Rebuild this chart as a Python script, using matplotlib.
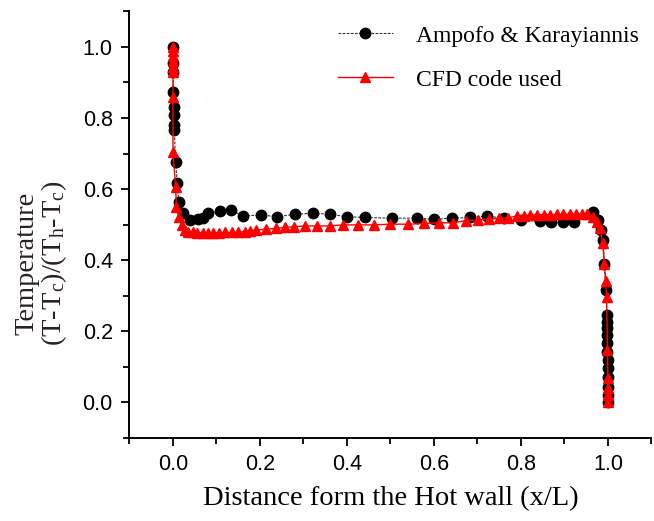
import matplotlib
matplotlib.use("Agg")
import matplotlib.pyplot as plt
from matplotlib.ticker import MultipleLocator

plt.rcParams['mathtext.fontset'] = 'custom'
plt.rcParams['mathtext.rm'] = 'Liberation Serif'
plt.rcParams['mathtext.it'] = 'Liberation Serif'

# Ampofo & Karayiannis (experiment)
exp_x = [0.0, 0.0, 0.0, 0.001, 0.002, 0.002, 0.003, 0.003, 0.006, 0.010, 0.013,
         0.022, 0.038, 0.058, 0.070, 0.081, 0.108, 0.133, 0.161, 0.202, 0.240,
         0.280, 0.321, 0.361, 0.400, 0.441, 0.503, 0.560, 0.600, 0.642, 0.683,
         0.721, 0.760, 0.800, 0.844, 0.870, 0.896, 0.923, 0.966, 0.978, 0.985,
         0.989, 0.992, 0.995, 0.998, 0.998, 0.999, 0.999, 0.999, 0.999, 1.0,
         1.0, 1.0, 1.0, 1.0, 1.0]
exp_y = [1.0, 0.955, 0.93, 0.873, 0.831, 0.808, 0.78, 0.766, 0.676, 0.617, 0.563,
         0.532, 0.513, 0.515, 0.518, 0.532, 0.538, 0.541, 0.524, 0.527, 0.522,
         0.529, 0.532, 0.529, 0.522, 0.520, 0.518, 0.518, 0.515, 0.518, 0.520,
         0.524, 0.518, 0.513, 0.509, 0.506, 0.506, 0.508, 0.535, 0.513, 0.485,
         0.456, 0.390, 0.315, 0.245, 0.225, 0.208, 0.189, 0.166, 0.141, 0.118,
         0.096, 0.070, 0.042, 0.020, 0.0]

# CFD code used
cfd_x = [0.0, 0.0, 0.0, 0.0, 0.0, 0.0, 0.0, 0.0, 0.006, 0.008, 0.014, 0.020,
         0.028, 0.035, 0.045, 0.056, 0.068, 0.080, 0.093, 0.106, 0.120, 0.135,
         0.150, 0.165, 0.178, 0.192, 0.215, 0.237, 0.257, 0.279, 0.303, 0.330,
         0.361, 0.390, 0.426, 0.462, 0.499, 0.540, 0.578, 0.612, 0.644, 0.674,
         0.702, 0.727, 0.750, 0.771, 0.790, 0.806, 0.821, 0.836, 0.852, 0.867,
         0.882, 0.897, 0.912, 0.927, 0.940, 0.953, 0.966, 0.974, 0.982, 0.988,
         0.992, 0.995, 0.997, 0.999, 1.0, 1.0, 1.0, 1.0]
cfd_y = [1.0, 0.99, 0.975, 0.96, 0.945, 0.93, 0.86, 0.704, 0.606, 0.55, 0.52, 0.50,
         0.485, 0.480, 0.478, 0.477, 0.477, 0.477, 0.477, 0.477, 0.478, 0.478,
         0.479, 0.480, 0.482, 0.485, 0.487, 0.489, 0.492, 0.494, 0.496, 0.496,
         0.496, 0.499, 0.499, 0.499, 0.501, 0.501, 0.503, 0.505, 0.505, 0.511,
         0.513, 0.515, 0.518, 0.519, 0.524, 0.525, 0.526, 0.527, 0.528, 0.528,
         0.529, 0.529, 0.530, 0.530, 0.530, 0.529, 0.522, 0.508, 0.489, 0.447,
         0.390, 0.340, 0.297, 0.146, 0.067, 0.040, 0.020, 0.0]

fig = plt.figure(figsize=(6.54, 5.21), dpi=100)
ax = fig.add_axes([0.198, 0.160, 0.798, 0.818])

ax.plot(exp_x, exp_y, color='#333333', lw=0.8, linestyle=(0, (2.5, 1.2)),
        marker='o', markersize=7.5, markerfacecolor='black',
        markeredgecolor='black', label='Ampofo & Karayiannis', zorder=2)
ax.plot(cfd_x, cfd_y, color='red', lw=1.0, marker='^', markersize=7.5,
        markerfacecolor='red', markeredgecolor='red',
        label='CFD code used', zorder=3)

ax.set_xlim(-0.1, 1.1)
ax.set_ylim(-0.1, 1.1)
ax.xaxis.set_minor_locator(MultipleLocator(0.1))
ax.yaxis.set_minor_locator(MultipleLocator(0.1))
ax.set_xticks([0.0, 0.2, 0.4, 0.6, 0.8, 1.0])
ax.set_yticks([0.0, 0.2, 0.4, 0.6, 0.8, 1.0])

for s in ['top', 'right']:
    ax.spines[s].set_visible(False)
for s in ['left', 'bottom']:
    ax.spines[s].set_linewidth(1.4)

ax.tick_params(which='major', direction='out', length=6, width=1.3,
               labelsize=15.5, pad=6)
ax.tick_params(which='minor', direction='out', length=4, width=1.3)
for lab in ax.get_xticklabels() + ax.get_yticklabels():
    lab.set_fontfamily('Liberation Sans')

ax.set_xlabel('Distance form the Hot wall (x/L)', fontsize=20.5,
              fontfamily='Liberation Serif', labelpad=8)
ax.set_ylabel('Temperature\n(T-T$_{\\mathrm{c}}$)/(T$_{\\mathrm{h}}$-T$_{\\mathrm{c}}$)',
              fontsize=20.5, fontfamily='Liberation Serif', color='#2a2020',
              linespacing=1.0)
ax.yaxis.set_label_coords(-0.115, 0.41)

leg = ax.legend(loc='upper left', bbox_to_anchor=(0.40, 0.968), frameon=False,
                prop={'family': 'Liberation Serif', 'size': 17},
                handlelength=2.3, handletextpad=1.0, labelspacing=0.95,
                borderpad=0, borderaxespad=0)

fig.savefig('out.png', dpi=100)
